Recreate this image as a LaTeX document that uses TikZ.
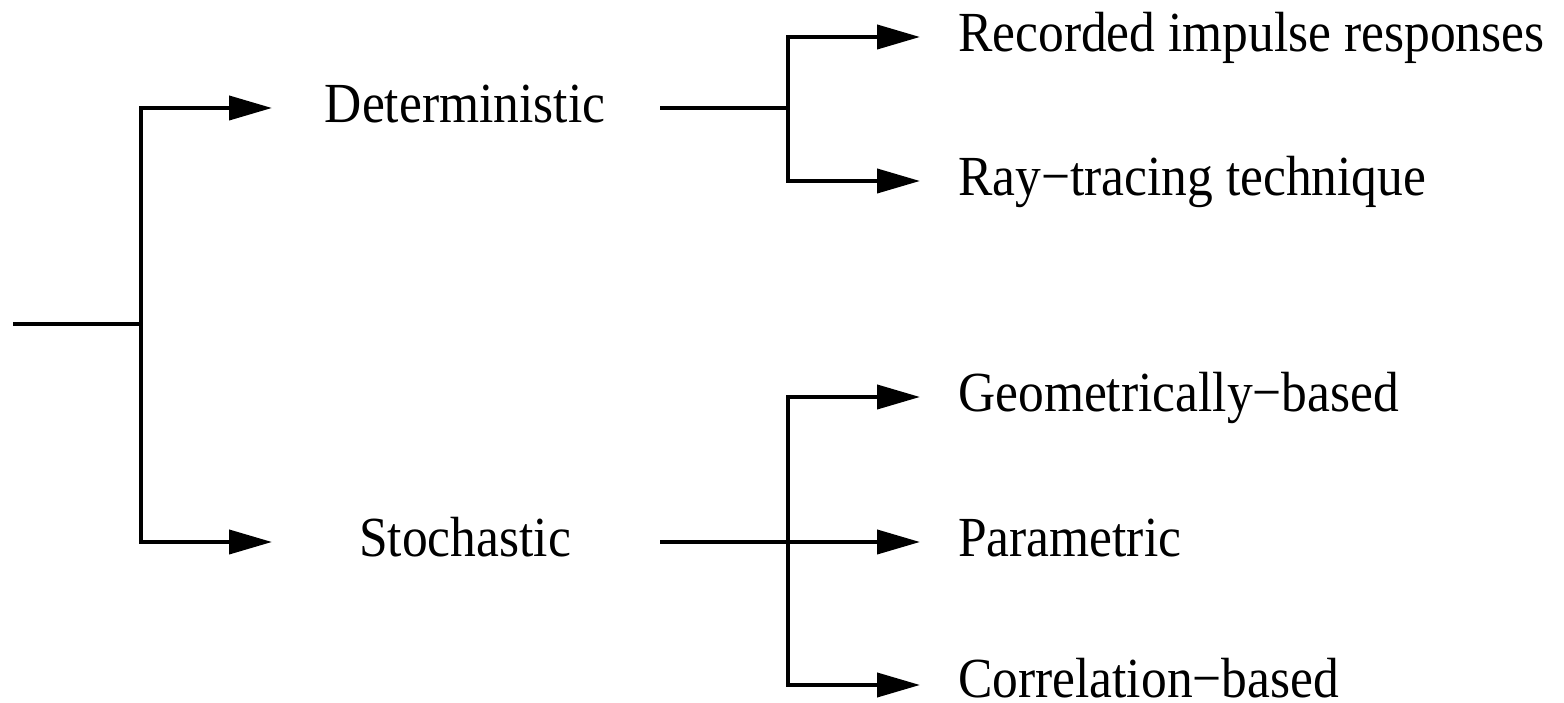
\documentclass[tikz,border=0pt]{standalone}
\usepackage{fontspec}
\setmainfont{Liberation Serif}
\usetikzlibrary{arrows.meta}
\newcommand{\lbltext}[1]{\scalebox{1}[1.1]{#1}}
\begin{document}
\begin{tikzpicture}[x=1pt,y=1pt,
    wire/.style={line width=4pt},
    arr/.style={wire,-{Triangle[length=43pt,width=24pt]}},
    lbl/.style={inner sep=0pt,font=\fontsize{51.5}{60}\selectfont}]
  \useasboundingbox (0,0) rectangle (1564,703);

  % labels (placed on their baselines)
  \node[lbl,anchor=base] (det) at (465,580) {\lbltext{Deterministic}};
  \node[lbl,anchor=base] (sto) at (465,146) {\lbltext{Stochastic}};
  \node[lbl,anchor=base west] (rec) at (958,651) {\lbltext{Recorded impulse responses}};
  \node[lbl,anchor=base west] (ray) at (958,507) {\lbltext{Ray−tracing technique}};
  \node[lbl,anchor=base west] (geo) at (958,291) {\lbltext{Geometrically−based}};
  \node[lbl,anchor=base west] (par) at (958,146) {\lbltext{Parametric}};
  \node[lbl,anchor=base west] (cor) at (958,5) {\lbltext{Correlation−based}};

  % branch points and arrow ends
  \coordinate (src) at (13,379);
  \coordinate (j0) at (141,379);
  \coordinate (det-in) at ([xshift=-193pt,yshift=15pt]det.base);
  \coordinate (sto-in) at ([xshift=-193pt,yshift=15pt]sto.base);
  \coordinate (det-out) at ([xshift=195pt,yshift=15pt]det.base);
  \coordinate (sto-out) at ([xshift=195pt,yshift=15pt]sto.base);
  \coordinate (j1) at (788,595);
  \coordinate (j2) at (788,161);
  \foreach \n in {rec,ray,geo,par}
    \coordinate (\n-in) at ([xshift=-38pt,yshift=15pt]\n.base west);
  \coordinate (cor-in) at ([xshift=-38pt,yshift=13pt]cor.base west);

  % first level
  \draw[wire] (src) -- (j0);
  \draw[arr] (j0) |- (det-in);
  \draw[arr] (j0) |- (sto-in);

  % deterministic models
  \draw[wire] (det-out) -- (j1);
  \draw[arr] (j1) |- (rec-in);
  \draw[arr] (j1) |- (ray-in);

  % stochastic models
  \draw[wire] (sto-out) -- (j2);
  \draw[arr] (j2) |- (geo-in);
  \draw[arr] (j2) -- (par-in);
  \draw[arr] (j2) |- (cor-in);
\end{tikzpicture}
\end{document}
